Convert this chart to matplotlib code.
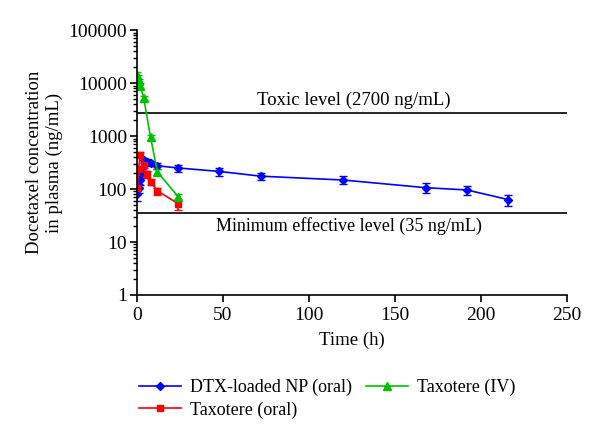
import matplotlib
matplotlib.use("Agg")
import matplotlib.pyplot as plt
from matplotlib.ticker import LogLocator, FixedLocator, NullFormatter
from matplotlib.lines import Line2D
import numpy as np

plt.rcParams['font.family'] = ['Liberation Serif', 'DejaVu Serif']

# Data
np_t = [0.25, 1, 2, 3, 4, 6, 8, 12, 24, 48, 72, 120, 168, 192, 216]
np_v = [80, 105, 150, 200, 350, 330, 310, 275, 250, 215, 175, 148, 106, 96, 63]
np_e = [20, 20, 30, 35, 40, 35, 35, 35, 40, 40, 30, 25, 22, 20, 15]

oral_t = [0.25, 1, 2, 4, 6, 8, 12, 24]
oral_v = [105, 235, 440, 290, 190, 138, 92, 53]
oral_e = [15, 40, 60, 40, 25, 18, 14, 12]

iv_t = [0.083, 0.5, 1, 2, 4, 8, 12, 24]
iv_v = [14500, 12500, 11000, 9000, 5300, 950, 210, 72]
iv_e = [2000, 1500, 1200, 900, 500, 120, 25, 10]

toxic_level = 2700
min_level = 35

c_np, c_oral, c_iv = '#0000ff', '#ff0000', '#00c000'

fig = plt.figure(figsize=(6.0, 4.37), dpi=100)
ax = fig.add_axes([0.228, 0.325, 0.717, 0.606])

ax.errorbar(np_t, np_v, yerr=np_e, color=c_np, marker='D', markersize=4.5,
            lw=1.2, capsize=3, elinewidth=1.2)
ax.errorbar(oral_t, oral_v, yerr=oral_e, color=c_oral, marker='s', markersize=4.5,
            lw=1.2, capsize=3, elinewidth=1.2)
ax.errorbar(iv_t, iv_v, yerr=iv_e, color=c_iv, marker='^', markersize=6,
            lw=1.2, capsize=3, elinewidth=1.2)

ax.axhline(toxic_level, color='black', lw=1.2)
ax.axhline(min_level, color='black', lw=1.2)
ax.text(70, 4700, 'Toxic level (2700 ng/mL)', fontsize=13.5, va='center', ha='left')
ax.text(46, 20, 'Minimum effective level (35 ng/mL)', fontsize=13, va='center', ha='left')

ax.set_yscale('log')
ax.set_ylim(1, 100000)
ax.set_xlim(0, 250)
ax.set_xticks([0, 50, 100, 150, 200, 250])
ax.yaxis.set_major_locator(FixedLocator([1, 10, 100, 1000, 10000, 100000]))
ax.set_yticklabels(['1', '10', '100', '1000', '10000', '100000'])
ax.yaxis.set_minor_locator(LogLocator(base=10, subs=np.arange(2, 10)))
ax.yaxis.set_minor_formatter(NullFormatter())

for s in ['top', 'right']:
    ax.spines[s].set_visible(False)
for s in ['left', 'bottom']:
    ax.spines[s].set_linewidth(1.2)
ax.tick_params(axis='both', which='major', labelsize=14, length=5, width=1.2, direction='out')
ax.tick_params(axis='y', which='major', pad=2)
ax.tick_params(axis='y', which='minor', length=3, width=1)

ax.set_xlabel('Time (h)', fontsize=13.5, labelpad=6)
ax.set_ylabel('Docetaxel concentration\nin plasma (ng/mL)', fontsize=13.5, labelpad=4)

h1 = Line2D([], [], color=c_np, marker='D', markersize=4.5, lw=1.2)
h2 = Line2D([], [], color=c_oral, marker='s', markersize=4.5, lw=1.2)
h3 = Line2D([], [], color=c_iv, marker='^', markersize=6, lw=1.2)
fig.legend(handles=[h1, h2, h3], labels=['DTX-loaded NP (oral)', 'Taxotere (oral)', 'Taxotere (IV)'],
           ncol=2, loc='upper left', bbox_to_anchor=(0.22, 0.15), frameon=False,
           fontsize=13, handlelength=2.3, columnspacing=0.8, labelspacing=0.3,
           handletextpad=0.5, borderaxespad=0)

fig.savefig('out.png', dpi=100)
